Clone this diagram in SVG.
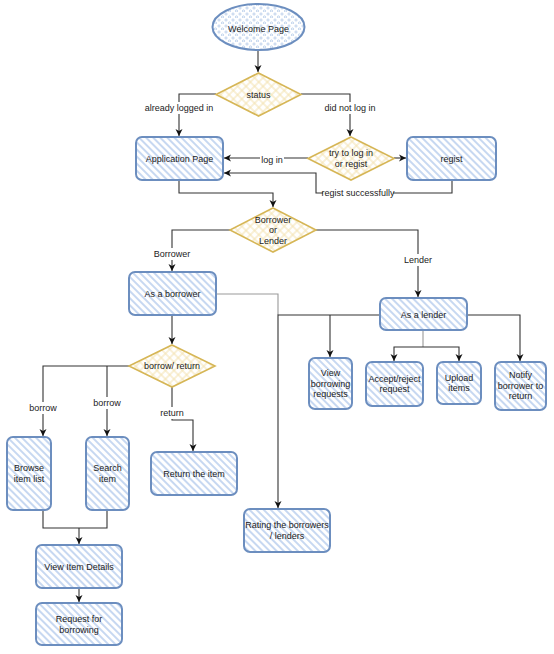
<svg xmlns="http://www.w3.org/2000/svg" width="554" height="654" viewBox="0 0 554 654">
<style>
text{font-family:"Liberation Sans",Arial,sans-serif;font-size:9px;fill:#222;text-anchor:middle;dominant-baseline:central}
.box{fill:url(#hb);stroke:#6c8ebf;stroke-width:2}
.dia{fill:url(#hy);stroke:#d6b656;stroke-width:1.6}
.c{fill:none;stroke:#333;stroke-width:1.1}
.g{fill:none;stroke:#999;stroke-width:1.1}
.lbl{fill:#fff}
</style>
<defs>
<pattern id="hb" patternUnits="userSpaceOnUse" width="5" height="5" patternTransform="rotate(-45)">
<rect width="5" height="5" fill="#fff"/>
<line x1="1" y1="0" x2="1" y2="5" stroke="#b9cfee" stroke-width="1.6"/>
</pattern>
<pattern id="hy" patternUnits="userSpaceOnUse" width="6" height="6" patternTransform="rotate(45)">
<rect width="6" height="6" fill="#fff"/>
<line x1="1" y1="0" x2="1" y2="6" stroke="#f3e2b0" stroke-width="1"/>
<line x1="0" y1="1" x2="6" y2="1" stroke="#f3e2b0" stroke-width="1"/>
</pattern>
<pattern id="dt" patternUnits="userSpaceOnUse" width="7" height="6">
<rect width="7" height="6" fill="#fff"/>
<circle cx="2" cy="2" r="1.1" fill="none" stroke="#9bb8e0" stroke-width="0.6"/>
<circle cx="5.5" cy="5" r="1.1" fill="none" stroke="#9bb8e0" stroke-width="0.6"/>
</pattern>
<marker id="a" markerWidth="8" markerHeight="8" refX="7" refY="4" orient="auto" markerUnits="userSpaceOnUse">
<path d="M0,0.5 L7,4 L0,7.5 L2,4 Z" fill="#111"/>
</marker>
</defs>

<g id="connectors">
<path class="c" d="M258,50 V72" marker-end="url(#a)"/>
<path class="c" d="M216,94 H179 V136" marker-end="url(#a)"/>
<path class="c" d="M301,94 H350 V136" marker-end="url(#a)"/>
<path class="c" d="M308,158 H224" marker-end="url(#a)"/>
<path class="c" d="M394,158 H406" marker-end="url(#a)"/>
<path class="c" d="M452,180 V193 H316 V173 H224" marker-end="url(#a)"/>
<path class="c" d="M179,180 V193 H273 V207" marker-end="url(#a)"/>
<path class="c" d="M230,230 H172 V271" marker-end="url(#a)"/>
<path class="c" d="M316,230 H418 V297" marker-end="url(#a)"/>
<path class="g" d="M216,294 H278 V315"/>
<path class="c" d="M380,315 H278 V508" marker-end="url(#a)"/>
<path class="c" d="M330,315 V357" marker-end="url(#a)"/>
<path class="g" d="M423,330 V347"/>
<path class="c" d="M423,347 H394 V361" marker-end="url(#a)"/>
<path class="c" d="M423,347 H459 V361" marker-end="url(#a)"/>
<path class="c" d="M467,315 H520 V361" marker-end="url(#a)"/>
<path class="c" d="M172,315 V344" marker-end="url(#a)"/>
<path class="c" d="M129,366 H43 V436" marker-end="url(#a)"/>
<path class="c" d="M107,366 V436" marker-end="url(#a)"/>
<path class="c" d="M172,387 V420 H193 V451" marker-end="url(#a)"/>
<path class="c" d="M43,510 V528 H107 V510"/>
<path class="c" d="M79,528 V544" marker-end="url(#a)"/>
<path class="c" d="M79,588 V602" marker-end="url(#a)"/>
<rect class="lbl" x="146" y="102" width="66" height="12"/>
<text x="179" y="108">already logged in</text>
<rect class="lbl" x="324" y="102" width="52" height="12"/>
<text x="350" y="108">did not log in</text>
<rect class="lbl" x="260" y="154" width="24" height="12"/>
<text x="272" y="160">log in</text>
<rect class="lbl" x="323" y="187" width="70" height="12"/>
<text x="358" y="193">regist successfully</text>
<rect class="lbl" x="154" y="248" width="36" height="12"/>
<text x="172" y="254">Borrower</text>
<rect class="lbl" x="403" y="254" width="30" height="12"/>
<text x="418" y="260">Lender</text>
<rect class="lbl" x="29" y="402" width="28" height="12"/>
<text x="43" y="408">borrow</text>
<rect class="lbl" x="93" y="397" width="28" height="12"/>
<text x="107" y="403">borrow</text>
<rect class="lbl" x="160" y="407" width="25" height="12"/>
<text x="172" y="413">return</text>
</g>

<g id="welcome">
<ellipse cx="258.5" cy="27" rx="46" ry="23" fill="url(#dt)" stroke="#6c8ebf" stroke-width="2"/>
<text x="258.5" y="29">Welcome Page</text>
</g>
<g id="status">
<polygon class="dia" points="258.5,73 301,94.5 258.5,116 216,94.5"/>
<text x="258.5" y="94.5">status</text>
</g>
<g id="app">
<rect class="box" x="136" y="137" width="87" height="43" rx="6"/>
<text x="179.5" y="158.5">Application Page</text>
</g>
<g id="try">
<polygon class="dia" points="351,137 394,158.5 351,180 308,158.5"/>
<text x="351" y="153">try to log in</text>
<text x="351" y="164">or regist</text>
</g>
<g id="regist">
<rect class="box" x="407" y="137" width="89" height="43" rx="6"/>
<text x="451.5" y="158.5">regist</text>
</g>
<g id="role">
<polygon class="dia" points="273,208 316,230 273,252 230,230"/>
<text x="273" y="219.5">Borrower</text>
<text x="273" y="230">or</text>
<text x="273" y="240.5">Lender</text>
</g>
<g id="borrower">
<rect class="box" x="129" y="272" width="87" height="43" rx="6"/>
<text x="172.5" y="294">As a borrower</text>
</g>
<g id="lender">
<rect class="box" x="380" y="298" width="87" height="32" rx="6"/>
<text x="423.5" y="315">As a lender</text>
</g>
<g id="viewreq">
<rect class="box" x="309" y="358" width="43" height="51" rx="6"/>
<text x="330.5" y="373">View</text>
<text x="330.5" y="383.5">borrowing</text>
<text x="330.5" y="394">requests</text>
</g>
<g id="accept">
<rect class="box" x="366" y="362" width="57" height="44" rx="6"/>
<text x="394.5" y="378.5">Accept/reject</text>
<text x="394.5" y="389">request</text>
</g>
<g id="upload">
<rect class="box" x="437" y="362" width="44" height="42" rx="6"/>
<text x="459" y="377.5">Upload</text>
<text x="459" y="388">items</text>
</g>
<g id="notify">
<rect class="box" x="495" y="362" width="51" height="48" rx="6"/>
<text x="520.5" y="375">Notify</text>
<text x="520.5" y="385.5">borrower to</text>
<text x="520.5" y="396">return</text>
</g>
<g id="borrowreturn">
<polygon class="dia" points="172,345 215,366 172,387 129,366"/>
<text x="172" y="366">borrow/ return</text>
</g>
<g id="browse">
<rect class="box" x="7" y="437" width="44" height="73" rx="6"/>
<text x="29" y="468">Browse</text>
<text x="29" y="478.5">item list</text>
</g>
<g id="search">
<rect class="box" x="86" y="437" width="43" height="73" rx="6"/>
<text x="107.5" y="468">Search</text>
<text x="107.5" y="478.5">item</text>
</g>
<g id="returnitem">
<rect class="box" x="151" y="452" width="86" height="43" rx="6"/>
<text x="194" y="473.5">Return the item</text>
</g>
<g id="rating">
<rect class="box" x="244" y="509" width="86" height="43" rx="6"/>
<text x="287" y="525">Rating the borrowers</text>
<text x="287" y="536">/ lenders</text>
</g>
<g id="details">
<rect class="box" x="36" y="545" width="86" height="43" rx="6"/>
<text x="79" y="566.5">View Item Details</text>
</g>
<g id="request">
<rect class="box" x="36" y="603" width="86" height="42" rx="6"/>
<text x="79" y="619">Request for</text>
<text x="79" y="630">borrowing</text>
</g>
</svg>
